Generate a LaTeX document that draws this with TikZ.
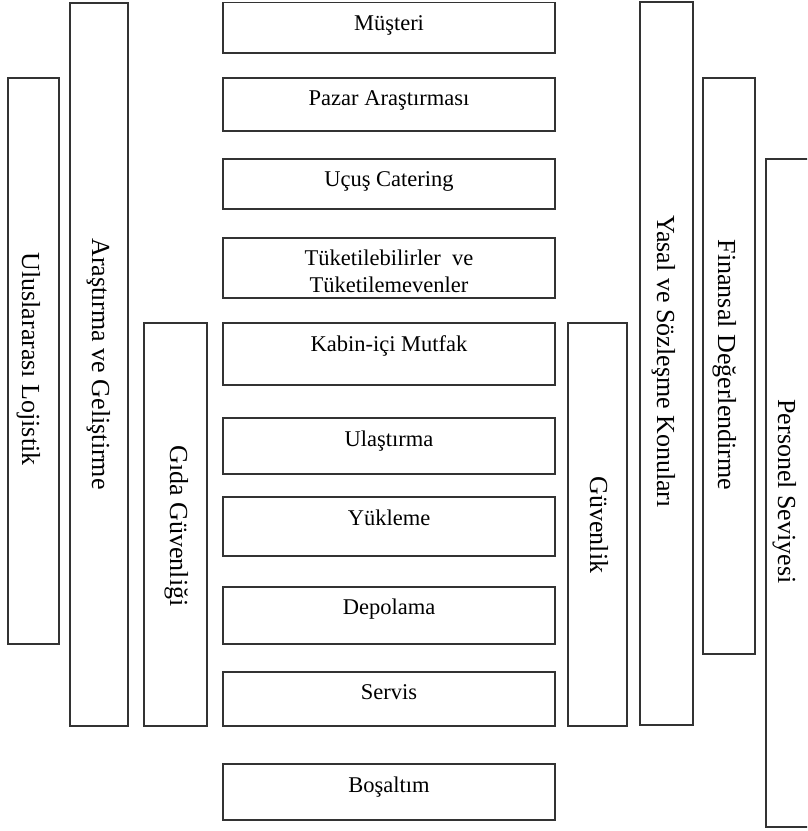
\documentclass[tikz,border=0pt]{standalone}
\usepackage{fontspec}
\setmainfont{Liberation Serif}
\begin{document}
\begin{tikzpicture}[x=1pt,y=-1pt,
  box/.style={draw=linec, line width=1.3pt, inner sep=0pt, outer sep=0pt, fill=white},
  ctext/.style={anchor=base, inner sep=0pt, align=center, text=black,
    font=\fontsize{22.5}{27}\selectfont},
  vtext/.style={anchor=base, inner sep=0pt, rotate=-90, text=black,
    font=\fontsize{26}{30}\selectfont}]
\definecolor{linec}{HTML}{333333}
\useasboundingbox (0,0) rectangle (807,831);
\clip (0,0) rectangle (807,831);

% central chain of activities
\node[box, minimum width=332pt, minimum height=50.5pt] (mus) at (389,27.75) {};
\node[box, minimum width=332pt, minimum height=53pt] (paz) at (389,104.5) {};
\node[box, minimum width=332pt, minimum height=50pt] (ucu) at (389,184) {};
\node[box, minimum width=332pt, minimum height=60pt] (tuk) at (389,268) {};
\node[box, minimum width=332pt, minimum height=62pt] (kab) at (389,354) {};
\node[box, minimum width=332pt, minimum height=56pt] (ula) at (389,446) {};
\node[box, minimum width=332pt, minimum height=59pt] (yuk) at (389,526.5) {};
\node[box, minimum width=332pt, minimum height=57pt] (dep) at (389,615.5) {};
\node[box, minimum width=332pt, minimum height=54pt] (ser) at (389,699) {};
\node[box, minimum width=332pt, minimum height=56pt] (bos) at (389,792) {};

\node[ctext] (musT) at ([yshift=-27.5pt]mus.north) {Müşteri};
\node[ctext] (pazT) at ([yshift=-27.5pt]paz.north) {Pazar Araştırması};
\node[ctext] (ucuT) at ([yshift=-27pt]ucu.north) {Uçuş Catering};
% two-line label: the base anchor sits on the second line
\node[ctext] (tukT) at ([yshift=-54pt]tuk.north) {Tüketilebilirler\ \ ve\\Tüketilemevenler};
\node[ctext] (kabT) at ([yshift=-28.5pt]kab.north) {Kabin-içi Mutfak};
\node[ctext] (ulaT) at ([yshift=-28pt]ula.north) {Ulaştırma};
\node[ctext] (yukT) at ([yshift=-28pt]yuk.north) {Yükleme};
\node[ctext] (depT) at ([yshift=-27.5pt]dep.north) {Depolama};
\node[ctext] (serT) at ([yshift=-27pt]ser.north) {Servis};
\node[ctext] (bosT) at ([yshift=-28pt]bos.north) {Boşaltım};

% vertical bars on the left
\node[box, minimum width=51pt, minimum height=566pt] (loj) at (33.5,361) {};
\node[box, minimum width=58pt, minimum height=723pt] (arg) at (99,364.5) {};
\node[box, minimum width=63pt, minimum height=403pt] (gid) at (175.5,524.5) {};
\node[vtext] (lojT) at (22,359) {Uluslararası Lojistik};
\node[vtext] (argT) at (92,364) {Araştırma ve Geliştirme};
\node[vtext] (gidT) at (170,526) {Gıda Güvenliği};

% vertical bars on the right
\node[box, minimum width=59pt, minimum height=403pt] (guv) at (597.5,524.5) {};
\node[box, minimum width=53pt, minimum height=723pt] (yas) at (666.5,363.5) {};
\node[box, minimum width=52pt, minimum height=576pt] (fin) at (729,366) {};
\node[box, minimum width=46pt, minimum height=668pt] (per) at (789,493) {};
\node[vtext] (guvT) at (590,525) {Güvenlik};
\node[vtext] (yasT) at (657,361.5) {Yasal ve Sözleşme Konuları};
\node[vtext] (finT) at (718,365) {Finansal Değerlendirme};
\node[vtext] (perT) at (778,491.5) {Personel Seviyesi};
\end{tikzpicture}
\end{document}
